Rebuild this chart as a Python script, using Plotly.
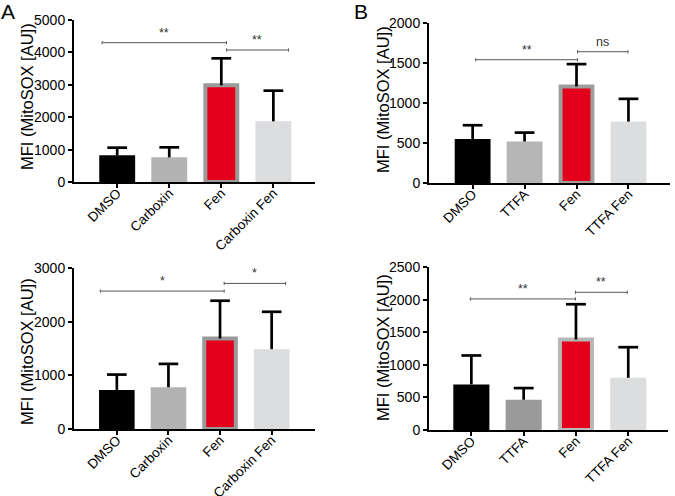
import plotly.graph_objects as go

# ---------------- data ----------------
cats_A = ["DMSO", "Carboxin", "Fen", "Carboxin Fen"]
cats_B = ["DMSO", "TTFA", "Fen", "TTFA Fen"]

a_top_mean = [823, 761, 2984, 1872]
a_top_err = [237, 309, 833, 947]
b_top_mean = [551, 518, 1207, 768]
b_top_err = [171, 112, 279, 284]
a_bot_mean = [728, 778, 1686, 1487]
a_bot_err = [286, 435, 704, 697]
b_bot_mean = [699, 464, 1388, 801]
b_bot_err = [444, 179, 541, 469]

y_max = [5000, 2000, 3000, 2500]
y_dtick = [1000, 500, 1000, 500]

# significance brackets: (x_start, x_end, y, label)
sig_a_top = [(-0.29, 2.10, 4300, "**"), (2.10, 3.29, 4074, "**")]
sig_b_top = [(0.06, 2.02, 1541, "**"), (2.02, 2.99, 1641, "ns")]
sig_a_bot = [(-0.32, 2.08, 2570, "*"), (2.08, 3.27, 2713, "*")]
sig_b_bot = [(-0.02, 1.99, 2010, "**"), (1.99, 2.98, 2112, "**")]

FONT = "Arial, Liberation Sans, sans-serif"

panels = [
    dict(cats=cats_A, mean=a_top_mean, err=a_top_err, sig=sig_a_top,
         colors=["#000000", "#b3b3b3", "#e2001a", "#dcdddf"], border="#9a9a9a",
         xd=[74 / 675, 315 / 675], yd=[1 - 182 / 496, 1 - 20 / 496], title_x=27, title_y=97,
         xr=[-0.83, 3.80]),
    dict(cats=cats_B, mean=b_top_mean, err=b_top_err, sig=sig_b_top,
         colors=["#000000", "#b5b5b5", "#e2001a", "#dcdddf"], border="#9e9e9e",
         xd=[429 / 675, 670 / 675], yd=[1 - 183 / 496, 1 - 23 / 496], title_x=383, title_y=99,
         xr=[-0.84, 3.80]),
    dict(cats=cats_A, mean=a_bot_mean, err=a_bot_err, sig=sig_a_bot,
         colors=["#000000", "#b3b3b3", "#e2001a", "#dcdddf"], border="#9a9a9a",
         xd=[74 / 675, 315 / 675], yd=[1 - 429 / 496, 1 - 268 / 496], title_x=27, title_y=352,
         xr=[-0.83, 3.84]),
    dict(cats=cats_B, mean=b_bot_mean, err=b_bot_err, sig=sig_b_bot,
         colors=["#000000", "#9a9a9a", "#e2001a", "#dcdddf"], border="#b8b8b8",
         xd=[429 / 675, 668 / 675], yd=[1 - 430 / 496, 1 - 267 / 496], title_x=383, title_y=347,
         xr=[-0.81, 3.76]),
]

fig = go.Figure()
annotations = []
layout = {}

for k, p in enumerate(panels):
    n = k + 1
    xa = "x" if n == 1 else f"x{n}"
    ya = "y" if n == 1 else f"y{n}"
    idx = list(range(len(p["cats"])))
    ymax = y_max[k]
    plot_h = (p["yd"][1] - p["yd"][0]) * 496
    plot_w = (p["xd"][1] - p["xd"][0]) * 675
    unit_px = plot_w / (p["xr"][1] - p["xr"][0])
    bw = 0.69
    border_w = 4
    widths = [bw, bw, bw - border_w / unit_px, bw]
    line_w = [0, 0, border_w, 0]

    fig.add_trace(go.Bar(
        x=idx, y=p["mean"], width=widths,
        marker=dict(color=p["colors"], line=dict(color=p["border"], width=line_w)),
        xaxis=xa, yaxis=ya, showlegend=False, hoverinfo="skip"))

    # upper error bars
    cap = 0.19
    ex, ey = [], []
    for i, m, e in zip(idx, p["mean"], p["err"]):
        ex += [i, i, None, i - cap, i + cap, None]
        ey += [m, m + e, None, m + e, m + e, None]
    fig.add_trace(go.Scatter(x=ex, y=ey, mode="lines",
                             line=dict(color="black", width=2.7),
                             xaxis=xa, yaxis=ya, showlegend=False, hoverinfo="skip"))

    # significance brackets
    tick_h = ymax * 1.6 / plot_h
    bx, by = [], []
    for (x0, x1, yv, lab) in p["sig"]:
        bx += [x0, x1, None, x0, x0, None, x1, x1, None]
        by += [yv, yv, None, yv - tick_h, yv + tick_h, None, yv - tick_h, yv + tick_h, None]
        annotations.append(dict(x=(x0 + x1) / 2, y=yv, xref=xa, yref=ya, text=lab,
                                showarrow=False, yanchor="bottom", yshift=1,
                                font=dict(family=FONT, size=12.5, color="#333333")))
    fig.add_trace(go.Scatter(x=bx, y=by, mode="lines",
                             line=dict(color="#555555", width=1),
                             xaxis=xa, yaxis=ya, showlegend=False, hoverinfo="skip"))

    axis_common = dict(showline=True, linecolor="black", linewidth=2, ticks="outside",
                       ticklen=4, tickwidth=2, tickcolor="black", showgrid=False,
                       zeroline=False, automargin=False)
    layout["xaxis" if n == 1 else f"xaxis{n}"] = dict(
        domain=p["xd"], anchor=ya, range=p["xr"], tickmode="array", tickvals=idx,
        ticktext=p["cats"], tickangle=-45, ticklabelstandoff=-8,
        tickfont=dict(family=FONT, size=13.5, color="black"), **axis_common)
    layout["yaxis" if n == 1 else f"yaxis{n}"] = dict(
        domain=p["yd"], anchor=xa, range=[0, ymax], dtick=y_dtick[k], tick0=0,
        tickfont=dict(family=FONT, size=14, color="black"), **axis_common)

    annotations.append(dict(x=p["title_x"] / 675, y=1 - p["title_y"] / 496, xref="paper",
                            yref="paper", text="MFI (MitoSOX [AU])", textangle=-90,
                            showarrow=False, xanchor="center", yanchor="middle",
                            font=dict(family=FONT, size=16.5, color="black")))

annotations.append(dict(x=8 / 675, y=1 - 12 / 496, xref="paper", yref="paper", text="A",
                        showarrow=False, xanchor="center", yanchor="middle",
                        font=dict(family=FONT, size=21, color="black")))
annotations.append(dict(x=361 / 675, y=1 - 12 / 496, xref="paper", yref="paper", text="B",
                        showarrow=False, xanchor="center", yanchor="middle",
                        font=dict(family=FONT, size=21, color="black")))

fig.update_layout(width=675, height=496,
                  margin=dict(l=0, r=0, t=0, b=0, pad=0, autoexpand=False),
                  plot_bgcolor="white", paper_bgcolor="white", bargap=0,
                  hovermode=False, annotations=annotations, **layout)

fig.write_html("out.html", config={"displayModeBar": False, "staticPlot": True},
               post_script="document.body.style.margin='0px';document.body.style.overflow='hidden';")
